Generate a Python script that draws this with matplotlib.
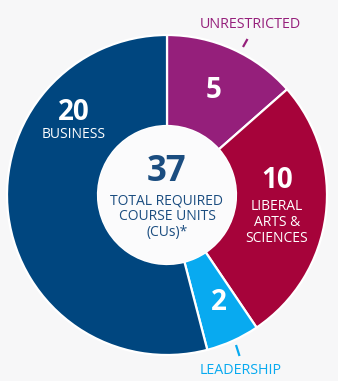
import matplotlib
matplotlib.use("Agg")
import matplotlib.pyplot as plt
from matplotlib.patches import Circle

categories = ["UNRESTRICTED", "LIBERAL\nARTS &\nSCIENCES", "LEADERSHIP", "BUSINESS"]
values = [5, 10, 2, 20]
colors = ["#951f7b", "#a6033a", "#08aaf0", "#00467f"]
total = 37

W, H = 338, 381
fig = plt.figure(figsize=(W / 100, H / 100), dpi=100)
fig.patch.set_facecolor("#f7f7f8")
ax = fig.add_axes([0, 0, 1, 1])

def Y(y):
    return H - y

cx, cy, R, r = 167, Y(195), 160, 69
ax.pie(values, colors=colors, startangle=90, counterclock=False,
       center=(cx, cy), radius=R, frame=True,
       wedgeprops=dict(width=R - r, edgecolor="white", linewidth=1.6))
ax.set_xlim(0, W)
ax.set_ylim(0, H)
ax.set_aspect("equal")
ax.axis("off")
ax.add_patch(Circle((cx, cy), r, facecolor="#fbfbfc", edgecolor="none", zorder=3))

font = "Open Sans"
white = "white"
navy = "#1b4d80"
lab = 10
num = 20

# center
ax.text(cx, Y(172), str(total), ha="center", va="center", fontsize=25,
        fontweight="bold", color=navy, family=font, zorder=4)
for i, line in enumerate(["TOTAL REQUIRED", "COURSE UNITS", "(CUs)*"]):
    ax.text(cx, Y(201 + 15.7 * i), line, ha="center", va="center", fontsize=lab,
            color=navy, family=font, zorder=4)

# values
ax.text(74, Y(112), str(values[3]), ha="center", va="center", fontsize=num,
        fontweight="bold", color=white, family=font)
ax.text(74, Y(135), categories[3], ha="center", va="center", fontsize=lab,
        color=white, family=font)
ax.text(214, Y(90), str(values[0]), ha="center", va="center", fontsize=num,
        fontweight="bold", color=white, family=font)
ax.text(277, Y(180), str(values[1]), ha="center", va="center", fontsize=num,
        fontweight="bold", color=white, family=font)
for i, line in enumerate(categories[1].split("\n")):
    ax.text(277, Y(207 + 16 * i), line, ha="center", va="center", fontsize=lab,
            color=white, family=font)
ax.text(219, Y(303), str(values[2]), ha="center", va="center", fontsize=num,
        fontweight="bold", color=white, family=font)

# outside labels
ax.text(250, Y(24), categories[0], ha="center", va="center", fontsize=10.3,
        color=colors[0], family=font)
ax.plot([247.5, 243], [Y(39), Y(47)], color=colors[0], lw=1.6, solid_capstyle="butt")
ax.text(241, Y(370), categories[2], ha="center", va="center", fontsize=10.3,
        color=colors[2], family=font)
ax.plot([236, 239.5], [Y(345), Y(356)], color=colors[2], lw=1.6, solid_capstyle="butt")

fig.savefig("out.png", dpi=100, facecolor=fig.get_facecolor())
